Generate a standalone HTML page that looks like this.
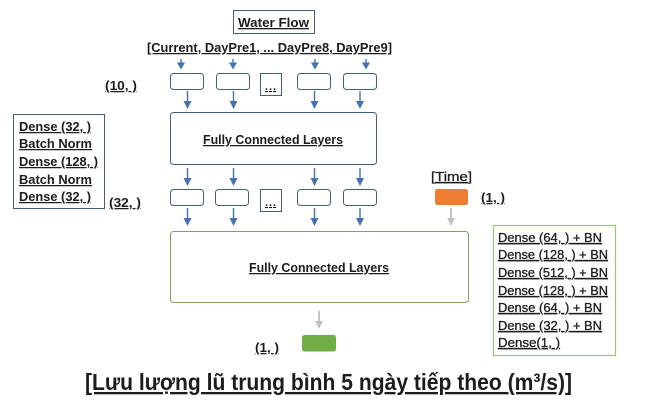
<!DOCTYPE html>
<html><head><meta charset="utf-8">
<style>
html,body{margin:0;padding:0;background:#fff;width:652px;height:403px;overflow:hidden}
svg{display:block}
text{font-family:"Liberation Sans",sans-serif;font-weight:bold;fill:#1c1c1c;text-decoration:underline;font-size:12.5px}
text.n{font-weight:normal;stroke:#1c1c1c;stroke-width:.3px}
</style></head><body>
<svg width="652" height="403" viewBox="0 0 652 403" xmlns="http://www.w3.org/2000/svg">
<defs>
<g id="s"><line x1="0" y1="-1" x2="0" y2="4" stroke="#4472b4" stroke-width="1.4"/><path d="M-4 2.5 L4 2.5 L0 9.5Z" fill="#4472b4"/></g>
<g id="l"><line x1="0" y1="0" x2="0" y2="12" stroke="#4472b4" stroke-width="1.4"/><path d="M-4 10 L4 10 L0 18Z" fill="#4472b4"/></g>
<g id="g"><line x1="0" y1="0" x2="0" y2="12" stroke="#bfbfbf" stroke-width="1.8"/><path d="M-3.8 10 L3.8 10 L0 18Z" fill="#bfbfbf"/></g>
</defs>
<rect x="233.5" y="10.5" width="81" height="23" fill="#fff" stroke="#41607f" stroke-width="1"/>
<text x="238" y="27" textLength="71" lengthAdjust="spacingAndGlyphs" style="font-size:13px">Water Flow</text>
<text x="147" y="52" textLength="245" lengthAdjust="spacingAndGlyphs">[Current, DayPre1, ... DayPre8, DayPre9]</text>
<use href="#s" x="181" y="60"/><use href="#s" x="233" y="60"/><use href="#s" x="315" y="60"/><use href="#s" x="366" y="60"/>
<g fill="#fff" stroke="#41607f" stroke-width="1">
<rect x="170.5" y="73.5" width="33" height="16" rx="3"/>
<rect x="216.5" y="73.5" width="33" height="16" rx="3"/>
<rect x="297.5" y="73.5" width="33" height="16" rx="3"/>
<rect x="343.5" y="73.5" width="33" height="16" rx="3"/>
<rect x="260.5" y="73.5" width="21" height="22"/>
<rect x="170.5" y="112.5" width="206" height="52" rx="3"/>
<rect x="170.5" y="189.5" width="33" height="16" rx="3"/>
<rect x="215.5" y="189.5" width="33" height="16" rx="3"/>
<rect x="297.5" y="189.5" width="33" height="16" rx="3"/>
<rect x="343.5" y="189.5" width="33" height="16" rx="3"/>
<rect x="260.5" y="189.5" width="21" height="22"/>
<rect x="13.5" y="114.5" width="91" height="94"/>
</g>
<text x="265" y="90" textLength="11" style="font-size:11px">...</text>
<text x="265" y="206" textLength="11" style="font-size:11px">...</text>
<text x="105" y="90" textLength="32" lengthAdjust="spacingAndGlyphs">(10, )</text>
<text x="109" y="207" textLength="32" lengthAdjust="spacingAndGlyphs">(32, )</text>
<use href="#l" x="187.5" y="91"/><use href="#l" x="233.5" y="91"/><use href="#l" x="314.5" y="91"/><use href="#l" x="360" y="91"/>
<text x="203" y="144" textLength="140" lengthAdjust="spacingAndGlyphs">Fully Connected Layers</text>
<use href="#l" x="187.5" y="168"/><use href="#l" x="233.5" y="168"/><use href="#l" x="314.5" y="168"/><use href="#l" x="360" y="168"/>
<use href="#l" x="187.5" y="208"/><use href="#l" x="233.5" y="208"/><use href="#l" x="314.5" y="208"/><use href="#l" x="360" y="208"/>
<text x="19" y="131" textLength="72" lengthAdjust="spacingAndGlyphs">Dense (32, )</text>
<text x="19" y="148" textLength="73" lengthAdjust="spacingAndGlyphs">Batch Norm</text>
<text x="19" y="166" textLength="79" lengthAdjust="spacingAndGlyphs">Dense (128, )</text>
<text x="19" y="184" textLength="73" lengthAdjust="spacingAndGlyphs">Batch Norm</text>
<text x="19" y="201" textLength="72" lengthAdjust="spacingAndGlyphs">Dense (32, )</text>
<text class="n" x="431" y="181" textLength="41" lengthAdjust="spacingAndGlyphs">[Time]</text>
<rect x="435" y="189" width="33" height="16" rx="2.5" fill="#ed7d31"/>
<text x="481" y="202" textLength="24" lengthAdjust="spacingAndGlyphs">(1, )</text>
<use href="#g" x="451" y="208"/>
<rect x="170.5" y="231.5" width="298" height="71" rx="3" fill="#fff" stroke="#7fa35e" stroke-width="1"/>
<text x="249" y="272" textLength="140" lengthAdjust="spacingAndGlyphs">Fully Connected Layers</text>
<rect x="493.5" y="225.5" width="122" height="130" fill="#fff" stroke="#9fc46f" stroke-width="1.2"/>
<text class="n" x="498" y="242" textLength="104" lengthAdjust="spacingAndGlyphs">Dense (64, ) + BN</text>
<text class="n" x="498" y="259" textLength="110" lengthAdjust="spacingAndGlyphs">Dense (128, ) + BN</text>
<text class="n" x="498" y="277" textLength="110" lengthAdjust="spacingAndGlyphs">Dense (512, ) + BN</text>
<text class="n" x="498" y="295" textLength="110" lengthAdjust="spacingAndGlyphs">Dense (128, ) + BN</text>
<text class="n" x="498" y="312" textLength="104" lengthAdjust="spacingAndGlyphs">Dense (64, ) + BN</text>
<text class="n" x="498" y="330" textLength="104" lengthAdjust="spacingAndGlyphs">Dense (32, ) + BN</text>
<text class="n" x="498" y="347" textLength="62" lengthAdjust="spacingAndGlyphs">Dense(1, )</text>
<use href="#g" x="319" y="311"/>
<rect x="302" y="335" width="34" height="16.5" rx="2.5" fill="#70ad47"/>
<text x="255" y="352" textLength="24" lengthAdjust="spacingAndGlyphs">(1, )</text>
<text x="85" y="390" textLength="487" lengthAdjust="spacingAndGlyphs" style="font-size:23px">[Lưu lượng lũ trung bình 5 ngày tiếp theo (m³/s)]</text>
</svg>
</body></html>
